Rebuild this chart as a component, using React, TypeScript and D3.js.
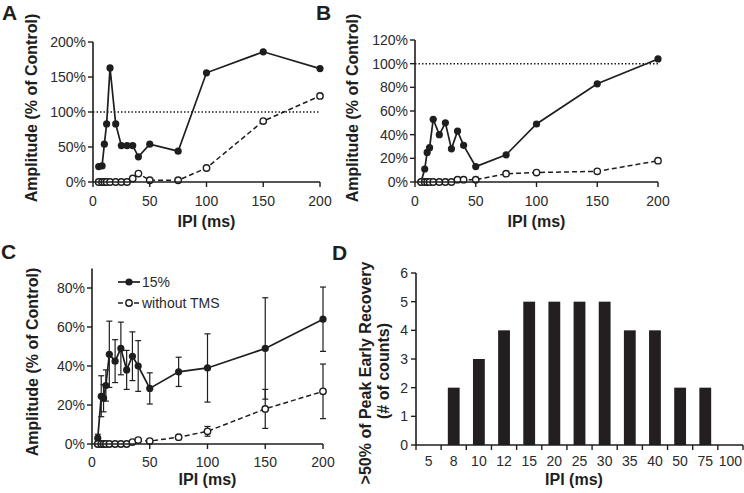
import React from "react";
import * as d3 from "d3";

const ipi = [5, 8, 10, 12, 15, 20, 25, 30, 35, 40, 50, 75, 100, 150, 200];
const aFilled = [22, 23, 54, 83, 163, 83, 52, 52, 52, 36, 54, 44, 156, 186, 162];
const aOpen = [0, 0, 0, 0, 0, 0, 0, 0, 5, 12, 2.5, 2.5, 20, 87, 123];
const bFilled = [0, 11, 25, 29, 53, 40, 50, 28, 43, 31, 13, 23, 49, 83, 104];
const bOpen = [0, 0, 0, 0, 0, 0, 0, 0, 2, 2, 2, 7, 8, 9, 18];
const cFilled = [3, 24.5, 23.5, 30, 46, 42.5, 49, 38, 45, 40, 28.5, 37, 39, 49, 64];
const cFilledErr = [2, 10.5, 7, 8, 17, 11, 13.5, 10, 12.5, 13, 8, 7.5, 17.5, 26, 16.5];
const cOpen = [0, 0, 0, 0, 0, 0, 0, 0, 1, 2, 1.5, 3.5, 6.5, 18, 27];
const cOpenErr = [0, 0, 0, 0, 0, 0, 0, 0, 0.5, 0.5, 0.5, 0.8, 2.5, 10, 14];
const dCats = ["5", "8", "10", "12", "15", "20", "25", "30", "35", "40", "50", "75", "100"];
const dCounts = [0, 2, 3, 4, 5, 5, 5, 5, 4, 4, 2, 2, 0];
const xTicks = [0, 50, 100, 150, 200];
const legendLabels = ["15%", "without TMS"];

const FONT = "'Liberation Sans', Arial, Helvetica, sans-serif";
const INK = "#1e1e1e";
const TXT = "#2a2a2a";

type PanelProps = {
  x0: number; x1: number; y0: number; y1: number; yMax: number; yStep: number;
  filled: number[]; open: number[]; filledErr?: number[]; openErr?: number[];
  refLine?: boolean; yLabelX: number; yLabelY: number; titleY: number; tickY: number;
};

function LinePanel(p: PanelProps) {
  const x = d3.scaleLinear().domain([0, 200]).range([p.x0, p.x1]);
  const y = d3.scaleLinear().domain([0, p.yMax]).range([p.y0, p.y1]);
  const yTicks = d3.range(0, p.yMax + 0.001, p.yStep);
  const line = d3.line<number>().x((_, i) => x(ipi[i])).y((d) => y(d));
  const errBars = (vals: number[], errs?: number[]) =>
    errs
      ? vals.map((v, i) =>
          errs[i] > 0 ? (
            <g key={"e" + i} stroke={INK} strokeWidth={1.2}>
              <line x1={x(ipi[i])} x2={x(ipi[i])} y1={y(v - errs[i])} y2={y(v + errs[i])} />
              <line x1={x(ipi[i]) - 3} x2={x(ipi[i]) + 3} y1={y(v + errs[i])} y2={y(v + errs[i])} />
              <line x1={x(ipi[i]) - 3} x2={x(ipi[i]) + 3} y1={y(v - errs[i])} y2={y(v - errs[i])} />
            </g>
          ) : null
        )
      : null;
  return (
    <g>
      {p.refLine && (
        <line x1={p.x0} x2={p.x1} y1={y(100)} y2={y(100)} stroke={INK} strokeWidth={1.5} strokeDasharray="1.5,2" />
      )}
      {errBars(p.open, p.openErr)}
      {errBars(p.filled, p.filledErr)}
      <path d={line(p.filled) || ""} fill="none" stroke={INK} strokeWidth={1.7} />
      <path d={line(p.open) || ""} fill="none" stroke={INK} strokeWidth={1.5} strokeDasharray="5,3" />
      {p.filled.map((v, i) => (
        <circle key={"f" + i} cx={x(ipi[i])} cy={y(v)} r={3.6} fill={INK} />
      ))}
      {p.open.map((v, i) => (
        <circle key={"o" + i} cx={x(ipi[i])} cy={y(v)} r={3.2} fill="#fff" stroke={INK} strokeWidth={1.4} />
      ))}
      {/* axes */}
      <line x1={p.x0} x2={p.x0} y1={p.y0} y2={p.y1} stroke={INK} strokeWidth={1.6} />
      <line x1={p.x0} x2={p.x1} y1={p.y0} y2={p.y0} stroke={INK} strokeWidth={1.6} />
      {yTicks.map((t) => (
        <g key={"yt" + t}>
          <line x1={p.x0 - 5} x2={p.x0} y1={y(t)} y2={y(t)} stroke={INK} strokeWidth={1.4} />
          <text x={p.x0 - 7} y={y(t)} dy="0.35em" textAnchor="end" fontSize={14} fill={TXT}>
            {t + "%"}
          </text>
        </g>
      ))}
      {xTicks.map((t) => (
        <g key={"xt" + t}>
          <line x1={x(t)} x2={x(t)} y1={p.y0} y2={p.y0 + 5} stroke={INK} strokeWidth={1.4} />
          <text x={x(t)} y={p.tickY} textAnchor="middle" fontSize={14} fill={TXT}>
            {t}
          </text>
        </g>
      ))}
      <text x={(p.x0 + p.x1) / 2} y={p.titleY} textAnchor="middle" fontSize={16} fontWeight="bold" fill={INK}>
        IPI (ms)
      </text>
      <text
        transform={`translate(${p.yLabelX},${p.yLabelY}) rotate(-90)`}
        textAnchor="middle"
        fontSize={16}
        fontWeight="bold"
        fill={INK}
      >
        Amplitude (% of Control)
      </text>
    </g>
  );
}

function BarPanel() {
  const x0 = 416, x1 = 743, y0 = 445, y1 = 273;
  const x = d3.scaleBand<string>().domain(dCats).range([x0, x1]).padding(0);
  const y = d3.scaleLinear().domain([0, 6]).range([y0, y1]);
  const bw = x.bandwidth();
  const barW = bw * 0.47;
  const bounds = d3.range(0, dCats.length + 1).map((i) => x0 + i * bw);
  return (
    <g>
      {dCounts.map((c, i) =>
        c > 0 ? (
          <rect key={"b" + i} x={(x(dCats[i]) as number) + bw / 2 - barW / 2} y={y(c)} width={barW} height={y0 - y(c)} fill="#231f20" />
        ) : null
      )}
      <line x1={x0} x2={x0} y1={y0} y2={y1} stroke={INK} strokeWidth={1.6} />
      <line x1={x0} x2={x1} y1={y0} y2={y0} stroke={INK} strokeWidth={1.6} />
      {y.ticks(6).map((t) => (
        <g key={"yt" + t}>
          <line x1={x0 - 5} x2={x0} y1={y(t)} y2={y(t)} stroke={INK} strokeWidth={1.4} />
          <text x={x0 - 8} y={y(t)} dy="0.35em" textAnchor="end" fontSize={14} fill={TXT}>
            {t}
          </text>
        </g>
      ))}
      {bounds.map((b, i) => (
        <line key={"xb" + i} x1={b} x2={b} y1={y0} y2={y0 + 5} stroke={INK} strokeWidth={1.4} />
      ))}
      {dCats.map((c) => (
        <text key={"xl" + c} x={(x(c) as number) + bw / 2} y={466} textAnchor="middle" fontSize={14} fill={TXT}>
          {c}
        </text>
      ))}
      <text x={574} y={485} textAnchor="middle" fontSize={16} fontWeight="bold" fill={INK}>
        IPI (ms)
      </text>
      <text transform={`translate(371,373) rotate(-90)`} textAnchor="middle" fontSize={16} fontWeight="bold" fill={INK}>
        {">50% of Peak Early Recovery"}
      </text>
      <text transform={`translate(389,371) rotate(-90)`} textAnchor="middle" fontSize={16} fontWeight="bold" fill={INK}>
        (# of counts)
      </text>
    </g>
  );
}

export default function App() {
  return (
    <svg
      width={744}
      height={493}
      style={{ position: "absolute", left: 0, top: 0, background: "#fff", fontFamily: FONT }}
    >
      <rect width={744} height={493} fill="#fff" />
      <LinePanel x0={93} x1={320} y0={182} y1={42} yMax={200} yStep={50} filled={aFilled} open={aOpen}
        refLine yLabelX={37} yLabelY={108} titleY={227} tickY={206} />
      <LinePanel x0={415} x1={658} y0={182} y1={40} yMax={120} yStep={20} filled={bFilled} open={bOpen}
        refLine yLabelX={358} yLabelY={108} titleY={227} tickY={206} />
      <LinePanel x0={92} x1={323} y0={444} y1={268.5} yMax={90} yStep={20} filled={cFilled} open={cOpen}
        filledErr={cFilledErr} openErr={cOpenErr} yLabelX={38} yLabelY={362} titleY={485} tickY={467} />
      <BarPanel />
      {/* legend C */}
      <g>
        <line x1={118} x2={140} y1={282} y2={282} stroke={INK} strokeWidth={1.7} />
        <circle cx={129} cy={282} r={3.6} fill={INK} />
        <text x={142} y={287} fontSize={14} fill={TXT}>{legendLabels[0]}</text>
        <line x1={118} x2={140} y1={303} y2={303} stroke={INK} strokeWidth={1.5} strokeDasharray="5,3" />
        <circle cx={129} cy={303} r={3.2} fill="#fff" stroke={INK} strokeWidth={1.4} />
        <text x={142} y={308} fontSize={14} fill={TXT}>{legendLabels[1]}</text>
      </g>
      {/* panel letters */}
      <text x={2} y={20} fontSize={21} fontWeight="bold" fill={INK}>A</text>
      <text x={316} y={20} fontSize={21} fontWeight="bold" fill={INK}>B</text>
      <text x={1} y={259} fontSize={21} fontWeight="bold" fill={INK}>C</text>
      <text x={332} y={260} fontSize={21} fontWeight="bold" fill={INK}>D</text>
    </svg>
  );
}
